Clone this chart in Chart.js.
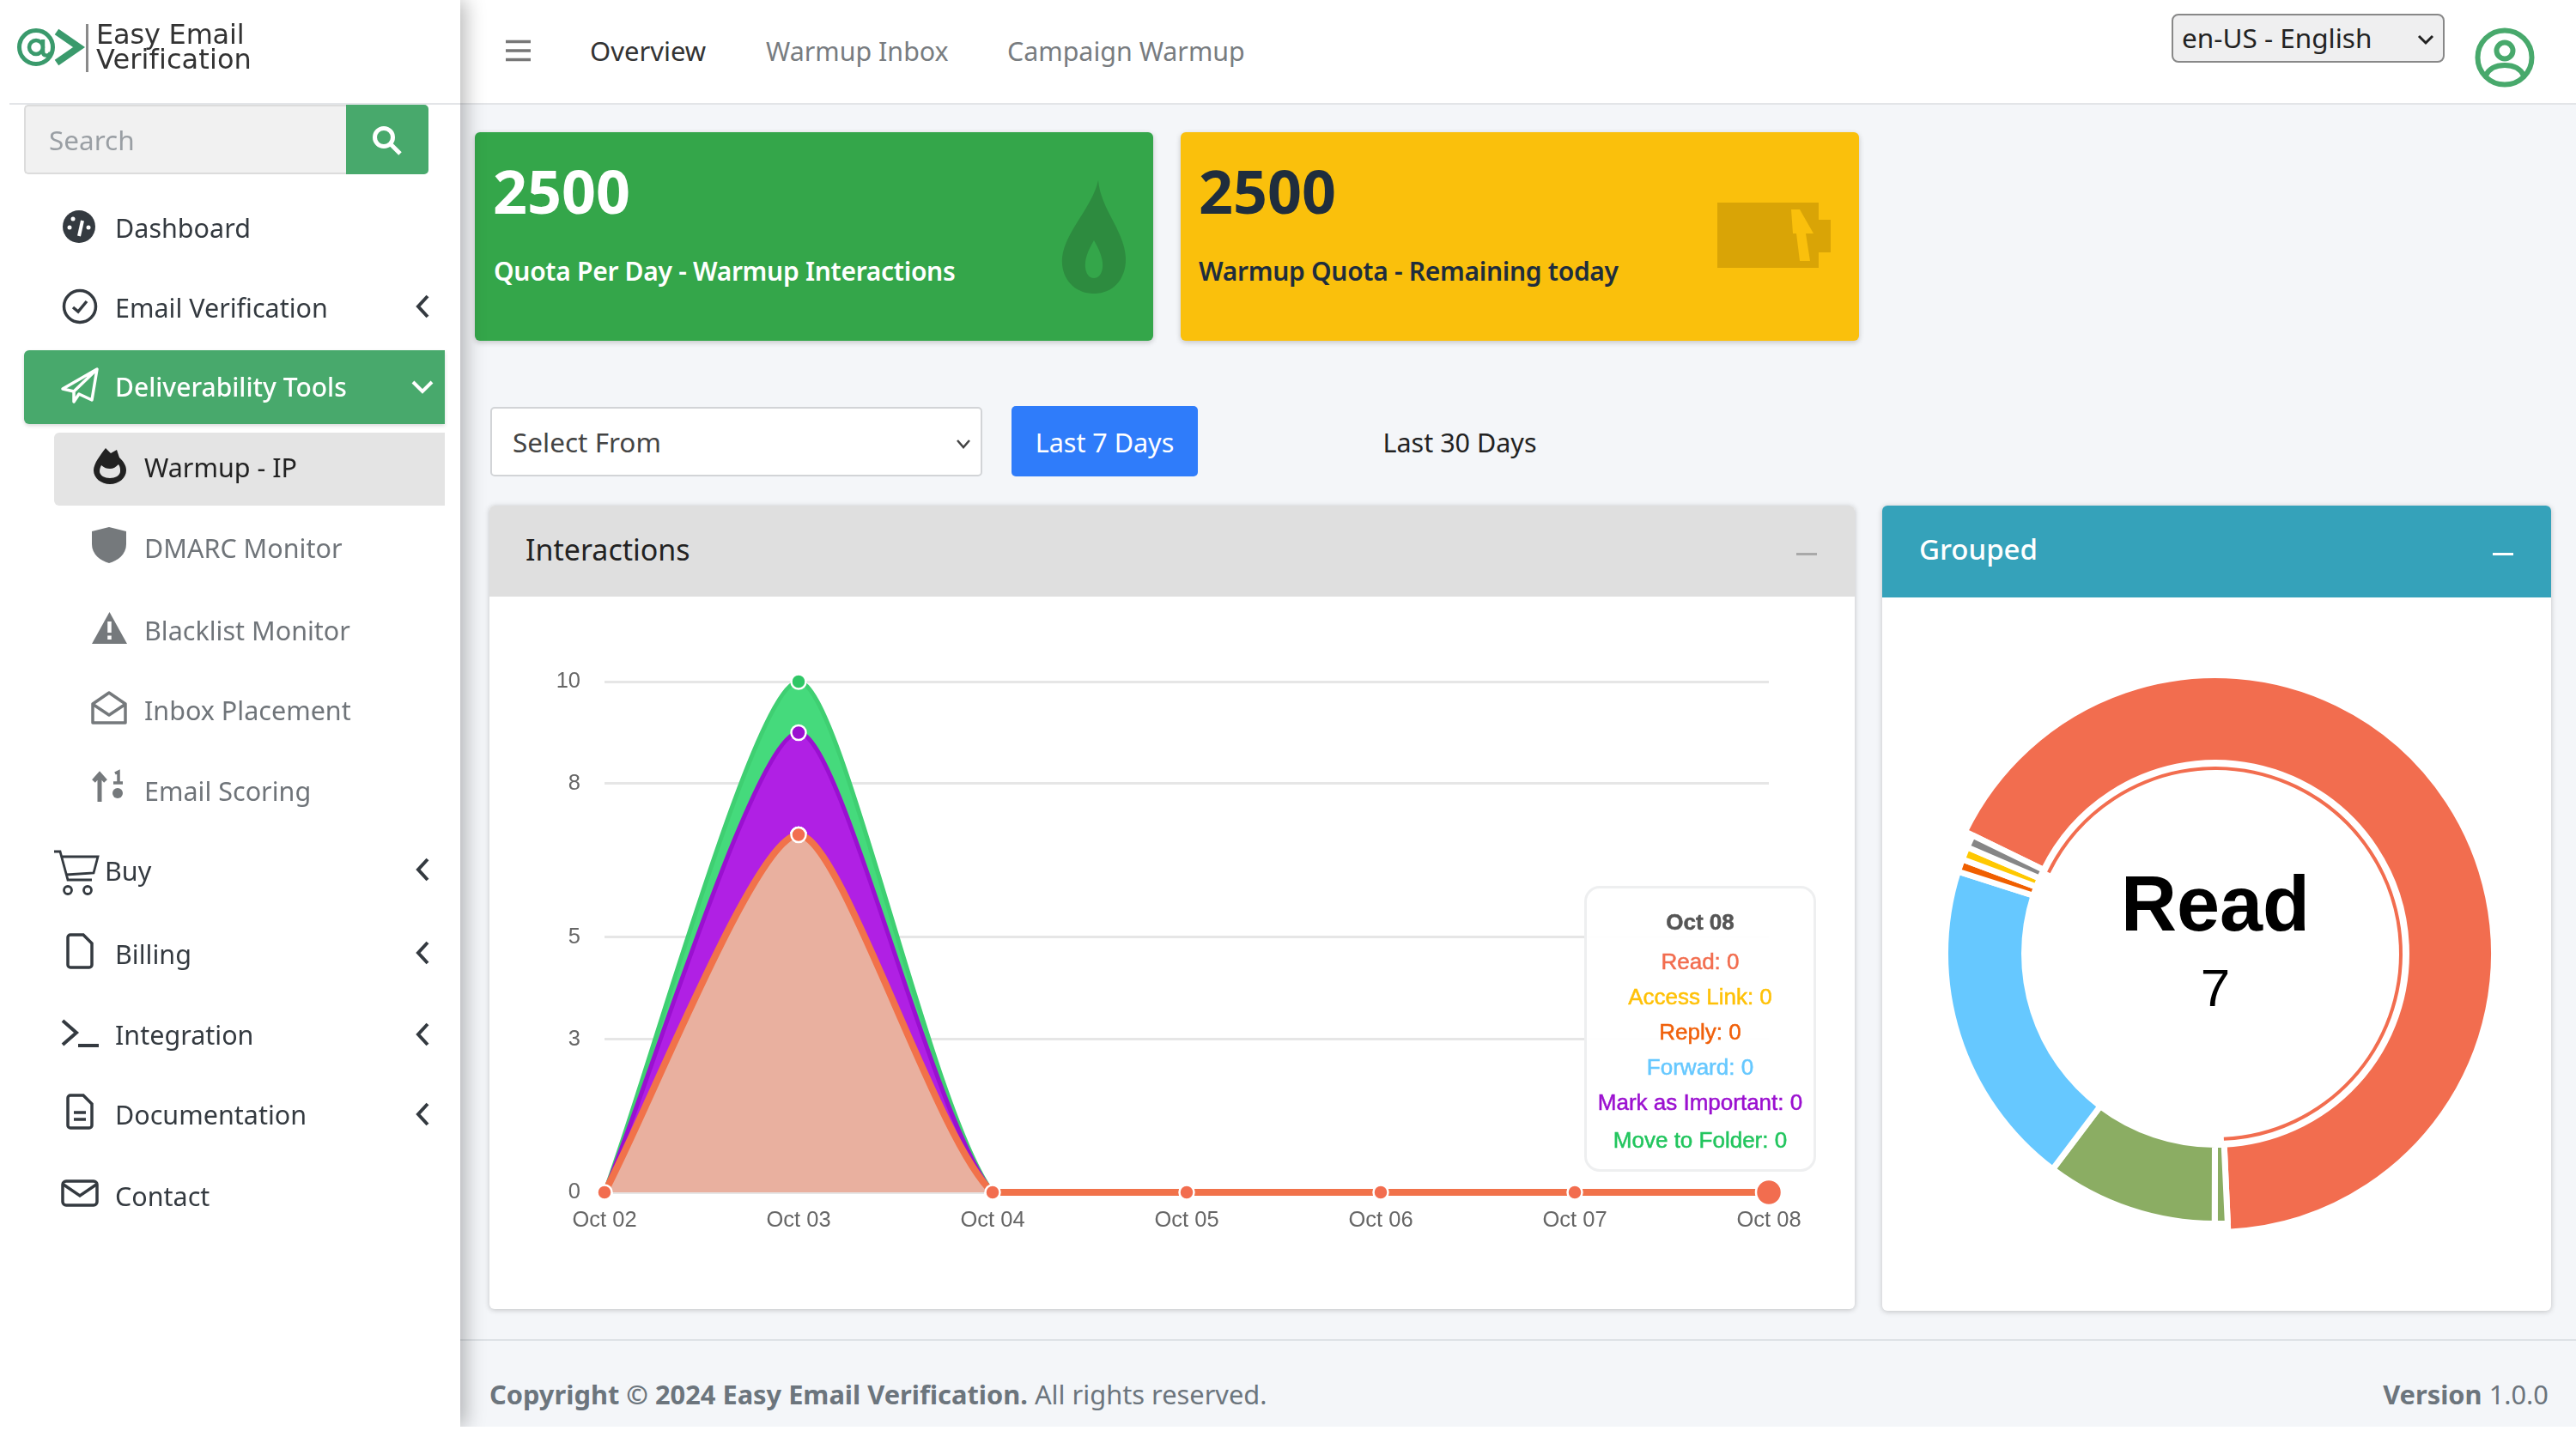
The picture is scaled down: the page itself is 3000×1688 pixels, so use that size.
<!DOCTYPE html>
<html><head><meta charset="utf-8">
<script src="https://cdn.jsdelivr.net/npm/chart.js@4"></script>
<style>
html,body{margin:0;padding:0;background:#fff}
#page{position:relative;width:3000px;height:1688px;overflow:hidden;background:#fff;font-family:"Noto Sans",sans-serif}
#main{position:absolute;left:536px;top:0;width:2464px;height:1662px;background:#f4f6f9}
#topbar{position:absolute;left:536px;top:0;width:2464px;height:120px;background:#fff;border-bottom:2px solid #e3e5e8}
#side{position:absolute;left:0;top:0;width:536px;height:1662px;background:#fff;box-shadow:6px 0 22px rgba(0,0,0,.28);clip-path:inset(0 -60px 0 0)}
.t{position:absolute;transform:translateY(-50%);white-space:nowrap;line-height:1.2}
.box{position:absolute;box-sizing:border-box}
.nav{font-size:30.5px;color:#343a40;margin-top:-1.5px}
.sub{font-size:30.5px;color:#6f7479;margin-top:-1.5px}
svg{position:absolute;overflow:visible}
canvas{position:absolute}
.panel{position:absolute;background:#fff;border-radius:6px;box-shadow:0 1px 6px rgba(0,0,0,.22)}
#tip{position:absolute;left:1845px;top:1032px;width:270px;height:333px;box-sizing:border-box;background:rgba(255,255,255,.96);border:3px solid #eeeff0;border-radius:18px;font-family:"Liberation Sans",Arial,sans-serif;font-size:26px;-webkit-text-stroke:.5px}
.tl{position:absolute;left:0;width:100%;text-align:center;transform:translateY(-50%);white-space:nowrap}
.lab{font-size:30px;font-weight:600;letter-spacing:-.3px}
</style></head><body>
<div id="page">
<div id="main"></div>
<div id="topbar"></div>

<!-- cards -->
<div class="box" style="left:553px;top:154px;width:790px;height:243px;background:#34a64a;border-radius:6px;box-shadow:0 2px 6px rgba(0,0,0,.2)"></div>
<div class="box" style="left:1375px;top:154px;width:790px;height:243px;background:#fac00c;border-radius:6px;box-shadow:0 2px 6px rgba(0,0,0,.2)"></div>
<div class="t" style="left:574px;top:222px;font-size:70px;font-weight:700;color:#fff">2500</div>
<div class="t lab" style="left:575px;top:316px;color:#fff">Quota Per Day - Warmup Interactions</div>
<div class="t" style="left:1396px;top:222px;font-size:70px;font-weight:700;color:#1f2d3d">2500</div>
<div class="t lab" style="left:1396px;top:316px;color:#1f2d3d">Warmup Quota - Remaining today</div>
<svg style="left:1236px;top:208px" width="76" height="134" viewBox="0 0 76 134"><path fill="#2d8b3f" fill-rule="evenodd" d="M43 2C36 34 4 62 1 92c-2 24 14 42 37 42s38-18 37-42C73 60 46 36 43 2zM38 72c7 12 11 22 10 32-1 8-5 12-10 12s-9-4-10-12c-1-10 3-20 10-32z"/></svg>
<svg style="left:2000px;top:236px" width="132" height="76" viewBox="0 0 132 76"><path fill="#d9a406" d="M0 0H118V20H132V58H118V76H0z"/><path fill="#fac00c" d="M86 8H96L112 36H103L108 68H96L92 36H88z"/></svg>

<!-- top bar -->
<svg style="left:589px;top:46px" width="29" height="26"><path d="M0 2.500H29M0 13H29M0 23.500H29" stroke="#777" stroke-width="3.500"/></svg>
<div class="t" style="left:687px;top:60px;font-size:31px;color:#333">Overview</div>
<div class="t" style="left:892px;top:60px;font-size:30.4px;color:#787c80">Warmup Inbox</div>
<div class="t" style="left:1173px;top:60px;font-size:30.4px;color:#787c80">Campaign Warmup</div>
<div class="box" style="left:2529px;top:16px;width:318px;height:57px;background:#efeff0;border:2px solid #888;border-radius:8px"></div>
<div class="t" style="left:2541px;top:44px;font-size:31.5px;color:#222">en-US - English</div>
<svg style="left:2815px;top:40px" width="20" height="12"><path d="M2 2L10 10L18 2" fill="none" stroke="#222" stroke-width="3"/></svg>
<svg style="left:2882px;top:32px" width="70" height="70" viewBox="0 0 70 70"><circle cx="35" cy="35" r="31.500" fill="none" stroke="#48a96c" stroke-width="6"/><circle cx="35" cy="27" r="9.500" fill="none" stroke="#48a96c" stroke-width="6"/><path d="M13 56c4-9 12-12 22-12s18 3 22 12" fill="none" stroke="#48a96c" stroke-width="6"/></svg>

<!-- filter row -->
<div class="box" style="left:571px;top:474px;width:573px;height:81px;background:#fff;border:2px solid #d2d4d7;border-radius:5px"></div>
<div class="t" style="left:597px;top:515px;font-size:31.5px;color:#444">Select From</div>
<svg style="left:1113px;top:511px" width="18" height="12"><path d="M2 2L9 10L16 2" fill="none" stroke="#444" stroke-width="2.500"/></svg>
<div class="box" style="left:1178px;top:473px;width:217px;height:82px;background:#2f7cfa;border-radius:5px"></div>
<div class="t" style="left:1178px;width:217px;text-align:center;top:515px;font-size:30.5px;color:#fff">Last 7 Days</div>
<div class="t" style="left:1500px;width:400px;text-align:center;top:515px;font-size:30.5px;color:#222">Last 30 Days</div>

<!-- interactions panel -->
<div class="panel" style="left:570px;top:589px;width:1590px;height:936px"></div>
<div class="box" style="left:570px;top:589px;width:1590px;height:106px;background:#dfdfdf;border-radius:6px 6px 0 0"></div>
<div class="t" style="left:612px;top:640px;font-size:34px;color:#222">Interactions</div>
<div class="box" style="left:2092px;top:644px;width:24px;height:3px;background:#a9a9a9"></div>
<canvas id="lineChart" width="1590" height="830" style="left:570px;top:695px;width:1590px;height:830px"></canvas>
<div id="tip"></div>

<!-- grouped panel -->
<div class="panel" style="left:2192px;top:589px;width:779px;height:938px"></div>
<div class="box" style="left:2192px;top:589px;width:779px;height:107px;background:#35a2ba;border-radius:6px 6px 0 0"></div>
<div class="t" style="left:2235px;top:640px;font-size:33px;font-weight:500;color:#fff">Grouped</div>
<div class="box" style="left:2903px;top:644px;width:24px;height:3px;background:#fff"></div>
<canvas id="donutChart" width="780" height="830" style="left:2190px;top:696px;width:780px;height:830px"></canvas>
<div class="t" id="cLabel" style="left:2280px;width:600px;text-align:center;top:1053px;font-family:'Liberation Sans',Arial,sans-serif;font-weight:700;font-size:90px;color:#000"></div>
<div class="t" id="cValue" style="left:2280px;width:600px;text-align:center;top:1151px;font-family:'Liberation Sans',Arial,sans-serif;font-size:62px;color:#000"></div>

<!-- footer -->
<div class="box" style="left:536px;top:1560px;width:2464px;height:2px;background:#dee2e6"></div>
<div class="t" style="left:570px;top:1624px;font-size:30.8px;color:#6c757d"><b>Copyright © 2024 Easy Email Verification.</b> All rights reserved.</div>
<div class="t" style="right:32px;top:1624px;font-size:30.8px;color:#6c757d"><b>Version</b> 1.0.0</div>

<!-- sidebar -->
<div id="side"></div>
<svg style="left:20px;top:28px" width="80" height="54" viewBox="0 0 80 54"><circle cx="22" cy="27" r="19.500" fill="none" stroke="#3a9a6c" stroke-width="5"/><circle cx="22" cy="27" r="8" fill="none" stroke="#3a9a6c" stroke-width="4.500"/><path d="M30 18V32c0 6 7 6 9 1" fill="none" stroke="#3a9a6c" stroke-width="4.500"/><path d="M46 9L72 27L46 45" fill="none" stroke="#3a9a6c" stroke-width="8"/></svg>
<div class="box" style="left:100px;top:28px;width:3px;height:56px;background:#8a8a8a"></div>
<div class="t" style="left:112px;top:40px;font-family:'DejaVu Sans',sans-serif;font-size:32px;color:#333;letter-spacing:-.2px">Easy Email</div>
<div class="t" style="left:112px;top:69px;font-family:'DejaVu Sans',sans-serif;font-size:32px;color:#333;letter-spacing:.1px">Verification</div>
<div class="box" style="left:11px;top:120px;width:525px;height:2px;background:#e3e5e8"></div>
<div class="box" style="left:28px;top:122px;width:376px;height:81px;background:#f1f1f1;border:2px solid #dcdcdc;border-right:0;border-radius:5px 0 0 5px"></div>
<div class="box" style="left:403px;top:122px;width:96px;height:81px;background:#48a96c;border-radius:0 5px 5px 0"></div>
<div class="t" style="left:57px;top:163px;font-size:31.5px;color:#9a9fa4">Search</div>
<svg style="left:433px;top:146px" width="36" height="36"><circle cx="14" cy="14" r="10.500" fill="none" stroke="#fff" stroke-width="5"/><path d="M22 22L33 33" stroke="#fff" stroke-width="5"/></svg>

<div class="box" style="left:28px;top:408px;width:490px;height:86px;background:#48a96c;border-radius:6px 0 0 6px;box-shadow:0 2px 4px rgba(0,0,0,.15)"></div>
<div class="box" style="left:63px;top:504px;width:455px;height:85px;background:#e4e4e4;border-radius:6px 0 0 6px"></div>

<div class="t nav" style="left:134px;top:266px">Dashboard</div>
<div class="t nav" style="left:134px;top:359px">Email Verification</div>
<div class="t nav" style="left:134px;top:452px;color:#fff;font-size:30px;font-weight:500">Deliverability Tools</div>
<div class="t nav" style="left:168px;top:545px;color:#222">Warmup - IP</div>
<div class="t sub" style="left:168px;top:639px">DMARC Monitor</div>
<div class="t sub" style="left:168px;top:735px">Blacklist Monitor</div>
<div class="t sub" style="left:168px;top:828px">Inbox Placement</div>
<div class="t sub" style="left:168px;top:922px">Email Scoring</div>
<div class="t nav" style="left:122px;top:1015px">Buy</div>
<div class="t nav" style="left:134px;top:1112px">Billing</div>
<div class="t nav" style="left:134px;top:1206px">Integration</div>
<div class="t nav" style="left:134px;top:1299px">Documentation</div>
<div class="t nav" style="left:134px;top:1394px">Contact</div>

<!-- chevrons -->
<svg style="left:483px;top:342px" width="18" height="30"><path d="M15 3L4 15L15 27" fill="none" stroke="#343a40" stroke-width="4"/></svg>
<svg style="left:478px;top:442px" width="28" height="18"><path d="M3 3L14 14L25 3" fill="none" stroke="#fff" stroke-width="4"/></svg>
<svg style="left:483px;top:998px" width="18" height="30"><path d="M15 3L4 15L15 27" fill="none" stroke="#343a40" stroke-width="4"/></svg>
<svg style="left:483px;top:1095px" width="18" height="30"><path d="M15 3L4 15L15 27" fill="none" stroke="#343a40" stroke-width="4"/></svg>
<svg style="left:483px;top:1190px" width="18" height="30"><path d="M15 3L4 15L15 27" fill="none" stroke="#343a40" stroke-width="4"/></svg>
<svg style="left:483px;top:1283px" width="18" height="30"><path d="M15 3L4 15L15 27" fill="none" stroke="#343a40" stroke-width="4"/></svg>

<!-- nav icons -->
<svg style="left:73px;top:245px" width="38" height="38" viewBox="0 0 38 38"><circle cx="19" cy="19" r="19" fill="#343a40"/><path d="M19 30L23 12" stroke="#fff" stroke-width="4"/><circle cx="8" cy="20" r="2.500" fill="#fff"/><circle cx="12" cy="10" r="2.500" fill="#fff"/><circle cx="30" cy="20" r="2.500" fill="#fff"/></svg>
<svg style="left:72px;top:336px" width="42" height="42" viewBox="0 0 42 42"><circle cx="21" cy="21" r="18.500" fill="none" stroke="#343a40" stroke-width="3.500"/><path d="M13 22L19 27L29 15" fill="none" stroke="#343a40" stroke-width="3.500"/></svg>
<svg style="left:72px;top:428px" width="42" height="42" viewBox="0 0 42 42"><path d="M1 25L41 2L35 38L20 31L14 40V28zM14 28L41 2" fill="none" stroke="#fff" stroke-width="3.500" stroke-linejoin="round"/></svg>
<svg style="left:109px;top:522px" width="38" height="42" viewBox="0 0 38 42"><path fill="#222" fill-rule="evenodd" d="M14 0L20 6L27 2L30 11C35 16 38 20 38 26 38 35 29 42 19 42S0 35 0 26C0 18 8 8 14 0zM9 20c4 3 6 4 10 4s7-2 10-5c2 3 2 5 2 8 0 5-6 8-12 8S7 32 7 27c0-3 1-5 2-7z"/></svg>
<svg style="left:107px;top:614px" width="40" height="42" viewBox="0 0 40 42"><path fill="#75797c" d="M20 0L40 5V20C40 32 30 39 20 42 10 39 0 32 0 20V5z"/></svg>
<svg style="left:107px;top:713px" width="41" height="37" viewBox="0 0 41 37"><path fill="#75797c" d="M20.500 0L41 37H0z"/><path d="M20.500 11V24M20.500 27.500V32" stroke="#fff" stroke-width="4.500"/></svg>
<svg style="left:106px;top:804px" width="42" height="42" viewBox="0 0 42 42"><path d="M2 16L21 3L40 16V38H2zM3 17L21 29L39 17" fill="none" stroke="#75797c" stroke-width="3.500" stroke-linejoin="round"/></svg>
<svg style="left:107px;top:898px" width="40" height="38" viewBox="0 0 40 38"><path d="M9 36V5M2 12L9 4L16 12" fill="none" stroke="#75797c" stroke-width="5"/><circle cx="30" cy="26" r="6" fill="#75797c"/><path d="M27 3L31 1V14M25 14H36" fill="none" stroke="#75797c" stroke-width="3.500"/></svg>
<svg style="left:62px;top:990px" width="54" height="54" viewBox="0 0 54 54"><path d="M1 2H8L17 35H45M10 8H52L47 27L15 29" fill="none" stroke="#343a40" stroke-width="2.800"/><circle cx="17" cy="47" r="4.500" fill="none" stroke="#343a40" stroke-width="2.800"/><circle cx="40" cy="47" r="4.500" fill="none" stroke="#343a40" stroke-width="2.800"/></svg>
<svg style="left:77px;top:1087px" width="32" height="42" viewBox="0 0 32 42"><path d="M2 5a3 3 0 0 1 3-3H20L30 12V37a3 3 0 0 1-3 3H5a3 3 0 0 1-3-3z" fill="none" stroke="#343a40" stroke-width="3.500"/></svg>
<svg style="left:71px;top:1187px" width="44" height="34" viewBox="0 0 44 34"><path d="M2 2L18 16L2 30" fill="none" stroke="#343a40" stroke-width="4"/><path d="M20 31H44" stroke="#343a40" stroke-width="4"/></svg>
<svg style="left:77px;top:1274px" width="32" height="42" viewBox="0 0 32 42"><path d="M2 5a3 3 0 0 1 3-3H20L30 12V37a3 3 0 0 1-3 3H5a3 3 0 0 1-3-3zM9 22H23M9 30H23" fill="none" stroke="#343a40" stroke-width="3.500"/></svg>
<svg style="left:71px;top:1374px" width="44" height="32" viewBox="0 0 44 32"><rect x="2" y="2" width="40" height="28" rx="4" fill="none" stroke="#343a40" stroke-width="3.500"/><path d="M3 6L22 19L41 6" fill="none" stroke="#343a40" stroke-width="3.500"/></svg>
</div>

<script>
// ---- chart data ----
const days = ["Oct 02","Oct 03","Oct 04","Oct 05","Oct 06","Oct 07","Oct 08"];
const yTickValues = [0,3,5,8,10];
const readValues      = [0,7,0,0,0,0,0];
const accessValues    = [0,0,0,0,0,0,0];
const replyValues     = [0,0,0,0,0,0,0];
const forwardValues   = [0,0,0,0,0,0,0];
const importantValues = [0,2,0,0,0,0,0];
const moveValues      = [0,1,0,0,0,0,0];
const tipTitle = "Oct 08";
const tipNames  = ["Read","Access Link","Reply","Forward","Mark as Important","Move to Folder"];
const tipValues = [0,0,0,0,0,0];
const tipColors = ["#f26d4f","#ffc107","#f0600a","#66c8ff","#9b10d0","#22c55e"];

const donutLabels = ["Read","Trash","Spam","Forward","Reply","Access Link","Other"];
const donutValues = [7,0.08,1.07,2.05,0.08,0.08,0.08];
const donutColors = ["#f26d4f","#8bad63","#8bad63","#66c8ff","#f05f00","#ffc800","#868686"];
const centerLabel = "Read";
const centerValue = "7";

Chart.defaults.font.family = '"Liberation Sans", Arial, sans-serif';

// ---- tooltip text box ----
const tip = document.getElementById('tip');
const tipY = [39,85,126,167,208,249,293];
function addTip(txt,y,col,w){const d=document.createElement('div');d.className='tl';d.style.top=y+'px';d.style.color=col;d.style.fontWeight=w;d.textContent=txt;tip.appendChild(d);}
addTip(tipTitle,tipY[0],'#555','700');
tipNames.forEach((n,i)=>addTip(n+': '+tipValues[i],tipY[i+1],tipColors[i],'400'));
document.getElementById('cLabel').textContent=centerLabel;
document.getElementById('cValue').textContent=centerValue;

// ---- stacked area ----
const lastRadius = 15, pointR = 8.5, curveTension = 0.22;
function pts(c){return {pointBackgroundColor:c,pointBorderColor:'#fff',pointBorderWidth:2.5,
  pointRadius:days.map((d,i)=>i===days.length-1?lastRadius:pointR),clip:false,tension:curveTension};}
new Chart(document.getElementById('lineChart'),{
  type:'line',
  data:{labels:days,datasets:[
    {label:tipNames[0],data:readValues,borderColor:'#f1724a',borderWidth:8,backgroundColor:'#e9b09f',fill:'origin',...pts('#f26d4f')},
    {label:tipNames[1],data:accessValues,borderColor:'#f1724a',borderWidth:4,fill:false,...pts('#f26d4f')},
    {label:tipNames[2],data:replyValues,borderColor:'#f1724a',borderWidth:4,fill:false,...pts('#f26d4f')},
    {label:tipNames[3],data:forwardValues,borderColor:'#f1724a',borderWidth:4,fill:false,...pts('#f26d4f')},
    {label:tipNames[4],data:importantValues,borderColor:'#9a10d0',borderWidth:5,backgroundColor:'#b020e4',fill:'-1',...pts('#9b10d0')},
    {label:tipNames[5],data:moveValues,borderColor:'#3fcf72',borderWidth:5,backgroundColor:'#45da7c',fill:'-1',...pts('#2fc766')}
  ]},
  options:{
    responsive:false,animation:false,devicePixelRatio:1,events:[],
    layout:{padding:{top:99,right:100,left:0,bottom:0}},
    plugins:{legend:{display:false},tooltip:{enabled:false}},
    scales:{
      x:{stacked:true,offset:false,grid:{display:false},border:{display:false},
        ticks:{color:'#666',font:{size:25.5},padding:10,maxRotation:0,autoSkip:false},
        afterFit(s){s.height=136;}},
      y:{stacked:true,min:0,max:10,grid:{color:'#e6e6e6',lineWidth:3,drawTicks:false},border:{display:false},
        ticks:{color:'#666',font:{size:25.5},padding:28},
        afterBuildTicks(s){s.ticks=yTickValues.map(v=>({value:v}));},
        afterFit(s){s.width=134;}}
    }
  }
});

// ---- doughnut: per-ring radii are applied after the controller lays out the arcs ----
const gapWidth = 7;
const ringInner = 226, ringOuter = 311, readOuter = 321, thinInner = 214, thinOuter = 218;
const ringRadii = {
  id:'ringRadii',
  afterDatasetsUpdate(chart){
    chart.getDatasetMeta(0).data.forEach((a,i)=>{
      a.innerRadius = ringInner-gapWidth/2;
      a.outerRadius = (i===0?readOuter:ringOuter)+gapWidth/2;
    });
    chart.getDatasetMeta(1).data.forEach(a=>{a.innerRadius=thinInner;a.outerRadius=thinOuter;});
  }
};
new Chart(document.getElementById('donutChart'),{
  type:'doughnut',
  data:{labels:donutLabels,datasets:[
    {data:donutValues,backgroundColor:donutColors,borderColor:'#fff',borderWidth:gapWidth},
    {data:donutValues,backgroundColor:donutColors.map((c,i)=>i===0?c:'rgba(0,0,0,0)'),borderWidth:0}
  ]},
  options:{responsive:false,animation:false,devicePixelRatio:1,events:[],rotation:-64,radius:ringOuter,cutout:ringInner,
    layout:{padding:0},plugins:{legend:{display:false},tooltip:{enabled:false}}},
  plugins:[ringRadii]
});
</script>
</body></html>
